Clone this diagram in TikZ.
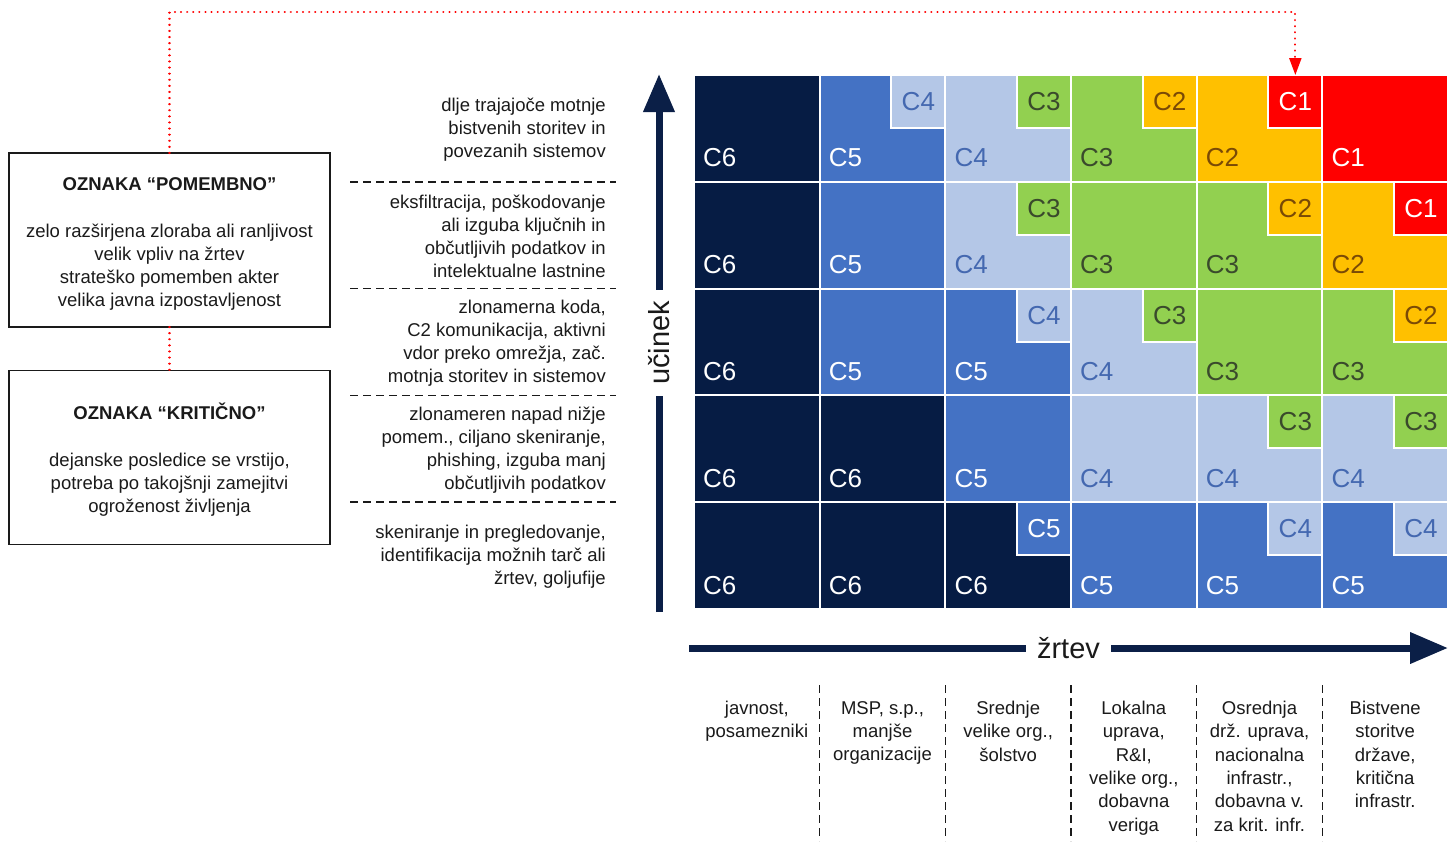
\documentclass[tikz,border=0pt]{standalone}
\usepackage{fontspec}
\setmainfont{Liberation Sans}
\usetikzlibrary{arrows.meta,calc}

% severity levels: fills and label colours
\definecolor{lv6}{HTML}{061C44}
\definecolor{lv5}{HTML}{4472C4}
\definecolor{lv4}{HTML}{B4C7E7}
\definecolor{lv3}{HTML}{92D050}
\definecolor{lv2}{HTML}{FFC000}
\definecolor{lv1}{HTML}{FF0000}
\definecolor{tx6}{HTML}{FFFFFF}
\definecolor{tx5}{HTML}{FFFFFF}
\definecolor{tx4}{HTML}{4468B0}
\definecolor{tx3}{HTML}{3A4A2C}
\definecolor{tx2}{HTML}{7A4A06}
\definecolor{tx1}{HTML}{FFFFFF}
\definecolor{axis}{HTML}{0B1F47}
\definecolor{ink}{HTML}{1A1A1A}
\definecolor{mark}{HTML}{FF0000}

\begin{document}
\begin{tikzpicture}[x=1pt,y=-1pt,
  cell/.style={draw=white, line width=2pt, outer sep=0pt, inner sep=0pt},
  lab/.style={font=\fontsize{26}{30}\selectfont, inner sep=0pt},
  desc/.style={font=\fontsize{18.5}{23}\selectfont, align=right, anchor=east, inner sep=0pt, text=ink},
  cat/.style={font=\fontsize{18.5}{23.3}\selectfont, align=center, anchor=north, inner sep=0pt, text=ink},
  sep/.style={draw=ink, dash pattern=on 8pt off 5pt, line width=1.5pt},
  infobox/.style={draw=ink, line width=1.5pt, minimum width=321pt, minimum height=174pt,
    inner sep=0pt, outer sep=0pt},
  boxtext/.style={align=center, font=\fontsize{18.5}{23}\selectfont, inner sep=0pt, text=ink},
  axisline/.style={draw=axis, line width=7pt, -{Triangle[length=38pt,width=30pt]}},
  axislabel/.style={fill=white, text=ink, font=\fontsize{29}{32}\selectfont, inner xsep=11pt, inner ysep=4pt},
  reddot/.style={draw=mark, line width=2.2pt, line cap=round, dash pattern=on 0.1pt off 6pt}]

\useasboundingbox (0,0) rectangle (1456,841);

% severity matrix: row/column/main level/corner level (0 = none)
\foreach \r/\c/\m/\i in {
  1/1/6/0, 1/2/5/4, 1/3/4/3, 1/4/3/2, 1/5/2/1, 1/6/1/0,
  2/1/6/0, 2/2/5/0, 2/3/4/3, 2/4/3/0, 2/5/3/2, 2/6/2/1,
  3/1/6/0, 3/2/5/0, 3/3/5/4, 3/4/4/3, 3/5/3/0, 3/6/3/2,
  4/1/6/0, 4/2/6/0, 4/3/5/0, 4/4/4/0, 4/5/4/3, 4/6/4/3,
  5/1/6/0, 5/2/6/0, 5/3/6/5, 5/4/5/0, 5/5/5/4, 5/6/5/4}{
  \pgfmathsetmacro\xl{694+(\c-1)*125.667}
  \pgfmathsetmacro\yt{75+(\r-1)*106.8}
  \node[cell, fill=lv\m, anchor=north west, minimum width=125.667pt, minimum height=106.8pt]
    (cell-\r-\c) at (\xl,\yt) {};
  \node[lab, text=tx\m, anchor=base west] at ($(cell-\r-\c.south west)+(9,-15)$) {C\m};
  \ifnum\i>0
    \node[cell, lab, fill=lv\i, text=tx\i, anchor=north east, minimum width=54pt, minimum height=53pt]
      (in-\r-\c) at (cell-\r-\c.north east) {C\i};
  \fi
}

% impact axis
\coordinate (v0) at (659,612);
\coordinate (v1) at (659,74);
\draw[axisline] (v0) -- node[axislabel, rotate=90] {učinek} (v1);

% victim axis
\coordinate (h0) at (689,648);
\coordinate (h1) at (1448,648);
\draw[axisline] (h0) -- node[axislabel] {žrtev} (h1);

% impact descriptions
\node[desc] (d1) at (606,129.4) {dlje trajajoče motnje\\bistvenih storitev in\\povezanih sistemov};
\node[desc] (d2) at (606,236.2) {eksfiltracija, poškodovanje\\ali izguba ključnih in\\občutljivih podatkov in\\intelektualne lastnine};
\node[desc] (d3) at (606,343.0) {zlonamerna koda,\\C2 komunikacija, aktivni\\vdor preko omrežja, zač.\\motnja storitev in sistemov};
\node[desc] (d4) at (606,449.8) {zlonameren napad nižje\\pomem., ciljano skeniranje,\\phishing, izguba manj\\občutljivih podatkov};
\node[desc] (d5) at (606,556.6) {skeniranje in pregledovanje,\\identifikacija možnih tarč ali\\žrtev, goljufije};

\foreach \y in {181.8,288.6,395.4,502.2}
  \draw[sep] (350,\y) -- (616,\y);

% victim categories
\node[cat] (k1) at (756.8,701) {javnost,\\posamezniki};
\node[cat] (k2) at (882.5,701) {MSP, s.p.,\\manjše\\organizacije};
\node[cat] (k3) at (1008.2,701) {Srednje\\velike org.,\\šolstvo};
\node[cat] (k4) at (1133.8,701) {Lokalna\\uprava,\\R\&I,\\velike org.,\\dobavna\\veriga};
\node[cat] (k5) at (1259.5,701) {Osrednja\\drž. uprava,\\nacionalna\\infrastr.,\\dobavna v.\\za krit. infr.};
\node[cat] (k6) at (1385.2,701) {Bistvene\\storitve\\države,\\kritična\\infrastr.};

\foreach \x in {819.7,945.3,1071,1196.7,1322.3}
  \draw[sep] (\x,685) -- (\x,841);

% marking boxes
\node[infobox] (box1) at (169.5,240) {};
\node[boxtext] (t1) at ($(box1.center)+(0,4)$) {\textbf{OZNAKA “POMEMBNO”}\\[24pt]zelo razširjena zloraba ali ranljivost\\velik vpliv na žrtev\\strateško pomemben akter\\velika javna izpostavljenost};
\node[infobox] (box2) at (169.5,457.5) {};
\node[boxtext] (t2) at ($(box2.center)+(0,2)$) {\textbf{OZNAKA “KRITIČNO”}\\[24pt]dejanske posledice se vrstijo,\\potreba po takojšnji zamejitvi\\ogroženost življenja};

\draw[reddot] (box1.south) -- (box2.north);
\draw[reddot, -{Triangle[length=17pt,width=12pt]}] (box1.north) -- ++(0,-141) -| (in-1-5.north);

\end{tikzpicture}
\end{document}
